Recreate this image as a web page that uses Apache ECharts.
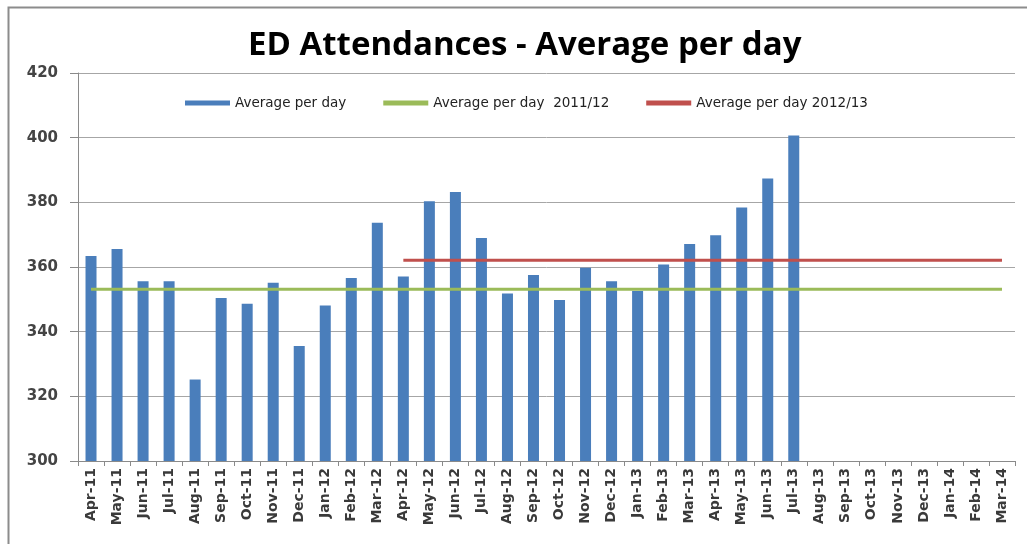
<!DOCTYPE html>
<html>
<head>
<meta charset="utf-8">
<title>ED Attendances</title>
<script src="https://cdn.jsdelivr.net/npm/echarts@6/dist/echarts.min.js"></script>
<style>
	html, body { margin: 0; padding: 0; background: #fff; }
	#chart { width: 1027px; height: 544px; }
</style>
</head>
<body>
<div id="chart"></div>
<script>
	'use strict';

	// months on the category axis
	var months = ['Apr-11', 'May-11', 'Jun-11', 'Jul-11', 'Aug-11', 'Sep-11', 'Oct-11', 'Nov-11', 'Dec-11',
		'Jan-12', 'Feb-12', 'Mar-12', 'Apr-12', 'May-12', 'Jun-12', 'Jul-12', 'Aug-12', 'Sep-12',
		'Oct-12', 'Nov-12', 'Dec-12', 'Jan-13', 'Feb-13', 'Mar-13', 'Apr-13', 'May-13', 'Jun-13',
		'Jul-13', 'Aug-13', 'Sep-13', 'Oct-13', 'Nov-13', 'Dec-13', 'Jan-14', 'Feb-14', 'Mar-14'];

	// monthly average per day (bars), no data after Jul-13
	var avgPerDay = [363.4, 365.6, 355.6, 355.6, 325.2, 350.4, 348.6, 355.1, 335.6,
		348.1, 356.6, 373.7, 357.1, 380.3, 383.2, 369.0, 351.8, 357.5,
		349.8, 359.8, 355.6, 352.6, 360.8, 367.1, 369.8, 378.4, 387.4,
		400.7, '-', '-', '-', '-', '-', '-', '-', '-'];

	// yearly average lines
	var avg1112 = [353.1, 353.1, 353.1, 353.1, 353.1, 353.1, 353.1, 353.1, 353.1,
		353.1, 353.1, 353.1, 353.1, 353.1, 353.1, 353.1, 353.1, 353.1,
		353.1, 353.1, 353.1, 353.1, 353.1, 353.1, 353.1, 353.1, 353.1,
		353.1, 353.1, 353.1, 353.1, 353.1, 353.1, 353.1, 353.1, 353.1];
	var avg1213 = ['-', '-', '-', '-', '-', '-', '-', '-', '-',
		'-', '-', '-', 362.1, 362.1, 362.1, 362.1, 362.1, 362.1,
		362.1, 362.1, 362.1, 362.1, 362.1, 362.1, 362.1, 362.1, 362.1,
		362.1, 362.1, 362.1, 362.1, 362.1, 362.1, 362.1, 362.1, 362.1];

	var yTicks = { min: 300, max: 420, step: 20 };

	var chart = echarts.init(document.getElementById('chart'), null, { renderer: 'canvas' });

	chart.setOption({
		animation: false,
		backgroundColor: '#fff',
		graphic: [{
			type: 'rect',
			left: 6,
			top: 5,
			shape: { width: 1040, height: 560 },
			style: { fill: 'none', stroke: '#8c8c8c', lineWidth: 2 },
			silent: true
		}],
		title: {
			text: 'ED Attendances - Average per day',
			left: 243,
			top: 24,
			textStyle: {
				fontFamily: 'Open Sans',
				fontWeight: 'bold',
				fontSize: 33,
				color: '#000'
			}
		},
		legend: {
			left: 180,
			top: 91,
			itemGap: 37,
			itemWidth: 45,
			itemHeight: 5,
			textStyle: { fontFamily: 'DejaVu Sans', fontSize: 13.5, color: '#222' },
			data: [
				{ name: 'Average per day', icon: 'rect' },
				{ name: 'Average per day  2011/12', icon: 'rect', itemStyle: { color: '#9bbb59' } },
				{ name: 'Average per day 2012/13', icon: 'rect', itemStyle: { color: '#c0504d' } }
			]
		},
		grid: {
			left: 78,
			right: 12,
			top: 73,
			bottom: 83,
			containLabel: false
		},
		xAxis: {
			type: 'category',
			data: months,
			boundaryGap: true,
			axisLine: { lineStyle: { color: '#8a8a8a', width: 1 } },
			axisTick: { show: true, interval: 0, length: 5, lineStyle: { color: '#8a8a8a' } },
			axisLabel: {
				interval: 0,
				rotate: 90,
				margin: 7,
				fontFamily: 'DejaVu Sans',
				fontWeight: 'bold',
				fontSize: 14,
				color: '#3a3a3a'
			}
		},
		yAxis: {
			type: 'value',
			min: yTicks.min,
			max: yTicks.max,
			interval: yTicks.step,
			axisLine: { show: true, lineStyle: { color: '#8a8a8a', width: 1 } },
			axisTick: { show: true, length: 8, lineStyle: { color: '#8a8a8a' } },
			axisLabel: {
				margin: 20,
				fontFamily: 'DejaVu Sans',
				fontWeight: 'bold',
				fontSize: 15,
				color: '#444'
			},
			splitLine: { lineStyle: { color: '#a6a6a6', width: 1 } }
		},
		series: [{
			name: 'Average per day',
			type: 'bar',
			barWidth: 11,
			itemStyle: { color: '#4a7ebb' },
			data: avgPerDay
		}, {
			name: 'Average per day  2011/12',
			type: 'line',
			symbol: 'none',
			lineStyle: { color: '#9bbb59', width: 3 },
			itemStyle: { color: '#9bbb59' },
			data: avg1112
		}, {
			name: 'Average per day 2012/13',
			type: 'line',
			symbol: 'none',
			lineStyle: { color: '#c0504d', width: 3 },
			itemStyle: { color: '#c0504d' },
			data: avg1213
		}]
	});
</script>
</body>
</html>
